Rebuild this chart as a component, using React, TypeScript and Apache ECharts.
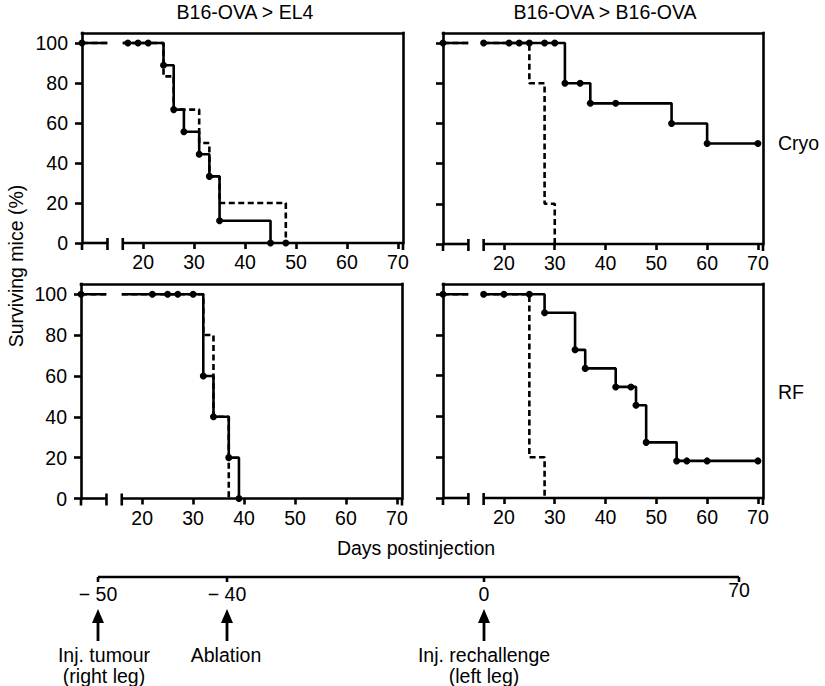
import React, { useEffect, useRef } from 'react';
import * as echarts from 'echarts';

// ---------- texts ----------
const panelTitles = ['B16-OVA > EL4', 'B16-OVA > B16-OVA'];
const rowLabels = ['Cryo', 'RF'];
const xTitle = 'Days postinjection';
const yTitle = 'Surviving mice (%)';
const xTicks = [20, 30, 40, 50, 60, 70];
const yTicks = [0, 20, 40, 60, 80, 100];
// broken x axis segments (days)
const axisSegments = [[8, 13], [16, 71]];
const timelineTicks = ['\u2212 50', '\u2212 40', '0', '70'];
const timelineEvents = ['Inj. tumour\n(right leg)', 'Ablation', 'Inj. rechallenge\n(left leg)'];

// ---------- data: [day, % surviving, marker (1 = dot)], null = axis break ----------
const cryoEL4Treated = [
  [8, 100, 1], [13, 100, 0], [13, null, 0], [16, 100, 0], [17, 100, 1], [19, 100, 1], [21, 100, 1],
  [24, 88.9, 1], [26, 66.7, 1], [28, 55.6, 1], [31, 44.4, 1], [33, 33.3, 1], [35, 11.1, 1], [45, 0, 1],
];
const cryoEL4Control = [
  [8, 100, 0], [13, 100, 0], [13, null, 0], [16, 100, 0], [24, 83.3, 0], [26, 66.7, 0],
  [31, 50, 0], [33, 33.3, 0], [35, 20, 0], [48, 0, 1],
];
const cryoB16Treated = [
  [8, 100, 1], [13, 100, 0], [13, null, 0], [16, 100, 1], [21, 100, 1], [23, 100, 1], [25, 100, 1],
  [28, 100, 1], [30, 100, 1], [32, 80, 1], [35, 80, 1], [37, 70, 1], [42, 70, 1], [53, 60, 1],
  [60, 50, 1], [70, 50, 1],
];
const cryoB16Control = [
  [8, 100, 0], [13, 100, 0], [13, null, 0], [16, 100, 0], [25, 80, 0], [28, 20, 0], [30, 0, 0],
];
const rfEL4Treated = [
  [8, 100, 1], [13, 100, 0], [13, null, 0], [16, 100, 0], [22, 100, 1], [25, 100, 1], [27, 100, 1],
  [30, 100, 1], [32, 60, 1], [34, 40, 1], [37, 20, 1], [39, 0, 1],
];
const rfEL4Control = [
  [8, 100, 0], [13, 100, 0], [13, null, 0], [16, 100, 0], [32, 80, 0], [34, 40, 0], [37, 0, 0],
];
const rfB16Treated = [
  [8, 100, 1], [13, 100, 0], [13, null, 0], [16, 100, 1], [20, 100, 1], [25, 100, 1], [28, 90.9, 1],
  [34, 72.7, 1], [36, 63.6, 1], [42, 54.5, 1], [45, 54.5, 1], [46, 45.5, 1], [48, 27.3, 1],
  [54, 18.2, 1], [56, 18.2, 1], [60, 18.2, 1], [70, 18.2, 1],
];
const rfB16Control = [
  [8, 100, 0], [13, 100, 0], [13, null, 0], [16, 100, 0], [25, 20, 0], [28, 0, 0],
];

const panels = [
  { treated: cryoEL4Treated, control: cryoEL4Control },
  { treated: cryoB16Treated, control: cryoB16Control },
  { treated: rfEL4Treated, control: rfEL4Control },
  { treated: rfB16Treated, control: rfB16Control },
];

// ---------- layout ----------
const FONT = 'Liberation Sans, Arial, Helvetica, sans-serif';
const FS = 19.5;
const LW = 2.6;
const GRIDS = [
  { left: 82, top: 33, width: 321, height: 210 },
  { left: 443, top: 33, width: 320, height: 211 },
  { left: 81, top: 284, width: 321, height: 214.5 },
  { left: 443, top: 284, width: 320, height: 214 },
];
const TL_Y = 577;
const TL_X = [98, 227, 484, 739];
const EVENT_X = [104, 226, 484];

function toItems(arr: any[]) {
  return arr.map(([d, v, m]) => ({ value: [d, v], symbol: m ? 'circle' : 'none' }));
}

function buildOption() {
  const lineStyle = { color: '#000', width: LW, cap: 'square' as const };
  const xAxis: any[] = [];
  const yAxis: any[] = [];
  const series: any[] = [];
  GRIDS.forEach((g, i) => {
    xAxis.push({
      type: 'value', gridIndex: i, min: 8, max: 71,
      axisLine: { show: false, onZero: false },
      splitLine: { show: false },
      axisTick: { show: true, customValues: xTicks, length: 6, lineStyle: { color: '#000', width: LW } },
      axisLabel: { customValues: xTicks, fontSize: FS, color: '#000', margin: 9, fontFamily: FONT },
    });
    xAxis.push({
      type: 'value', gridIndex: i, position: 'top', min: 8, max: 71,
      axisLine: { show: true, onZero: false, lineStyle },
      axisTick: { show: false }, axisLabel: { show: false }, splitLine: { show: false },
    });
    yAxis.push({
      type: 'value', gridIndex: i, min: 0, max: 105,
      axisLine: { show: true, onZero: false, lineStyle },
      splitLine: { show: false },
      axisTick: { show: true, customValues: yTicks, length: 7, lineStyle: { color: '#000', width: LW } },
      axisLabel: { show: i % 2 === 0, customValues: yTicks, fontSize: FS, color: '#000', margin: 14, fontFamily: FONT },
    });
    yAxis.push({
      type: 'value', gridIndex: i, position: 'right', min: 0, max: 105,
      axisLine: { show: true, onZero: false, lineStyle },
      axisTick: { show: false }, axisLabel: { show: false }, splitLine: { show: false },
    });
    // broken bottom axis
    series.push({
      type: 'custom', xAxisIndex: 2 * i, yAxisIndex: 2 * i, data: axisSegments, clip: false, silent: true, z: 3,
      renderItem: (params: any, api: any) => {
        const s = api.value(0), e = api.value(1);
        const a = api.coord([s, 0]), b = api.coord([e, 0]);
        const n = axisSegments.length, idx = params.dataIndex;
        const st = { stroke: '#000', lineWidth: LW };
        return {
          type: 'group',
          children: [
            { type: 'line', shape: { x1: a[0], y1: a[1], x2: b[0], y2: b[1] }, style: st },
            { type: 'line', shape: { x1: a[0], y1: a[1] - (idx > 0 ? 5 : 0), x2: a[0], y2: a[1] + 7 }, style: st },
            { type: 'line', shape: { x1: b[0], y1: b[1] - (idx < n - 1 ? 5 : 0), x2: b[0], y2: b[1] + 7 }, style: st },
          ],
        };
      },
    });
    series.push({
      type: 'line', xAxisIndex: 2 * i, yAxisIndex: 2 * i, step: 'end', z: 4,
      data: toItems(panels[i].control), symbol: 'circle', symbolSize: 7, showSymbol: true,
      lineStyle: { color: '#000', width: LW, type: [6, 3.5] }, itemStyle: { color: '#000' },
      connectNulls: false, silent: true,
    });
    series.push({
      type: 'line', xAxisIndex: 2 * i, yAxisIndex: 2 * i, step: 'end', z: 5,
      data: toItems(panels[i].treated), symbol: 'circle', symbolSize: 7, showSymbol: true,
      lineStyle: { color: '#000', width: LW }, itemStyle: { color: '#000' },
      connectNulls: false, silent: true,
    });
  });

  const txt = (text: string, x: number, y: number, align = 'center', extra: any = {}) => ({
    type: 'text', x, y, silent: true, ...extra,
    style: { text, fill: '#000', fontSize: FS, fontFamily: FONT, align, verticalAlign: 'middle' },
  });

  const graphic: any[] = [
    txt(panelTitles[0], 245, 12),
    txt(panelTitles[1], 605, 12),
    txt(rowLabels[0], 778, 143, 'left'),
    txt(rowLabels[1], 778, 392, 'left'),
    txt(yTitle, 16, 266, 'center', { rotation: Math.PI / 2 }),
    txt(xTitle, 416, 548),
    // timeline
    { type: 'line', silent: true, shape: { x1: TL_X[0], y1: TL_Y, x2: TL_X[3], y2: TL_Y }, style: { stroke: '#000', lineWidth: LW } },
  ];
  TL_X.forEach((x, k) => {
    graphic.push({ type: 'line', silent: true, shape: { x1: x, y1: TL_Y, x2: x, y2: TL_Y + 5 }, style: { stroke: '#000', lineWidth: LW } });
    graphic.push(txt(timelineTicks[k], x, k === 3 ? 590 : 594));
  });
  timelineEvents.forEach((label, k) => {
    const x = TL_X[k];
    graphic.push({ type: 'polygon', silent: true, shape: { points: [[x - 6, 623], [x, 609], [x + 6, 623]] }, style: { fill: '#000' } });
    graphic.push({ type: 'rect', silent: true, shape: { x: x - 1.4, y: 620, width: 2.8, height: 21 }, style: { fill: '#000' } });
    graphic.push({
      type: 'text', silent: true, x: EVENT_X[k], y: 644,
      style: { text: label, fill: '#000', fontSize: FS, fontFamily: FONT, align: 'center', verticalAlign: 'top', lineHeight: 21 },
    });
  });

  return {
    animation: false,
    textStyle: { fontFamily: FONT },
    grid: GRIDS.map((g) => ({ ...g })),
    xAxis,
    yAxis,
    series,
    graphic,
  };
}

export default function App() {
  const ref = useRef<HTMLDivElement>(null);
  useEffect(() => {
    if (!ref.current) return;
    const chart = echarts.init(ref.current, undefined, { renderer: 'svg' });
    chart.setOption(buildOption() as any);
    return () => chart.dispose();
  }, []);
  return (
    <div
      ref={ref}
      style={{ position: 'absolute', left: 0, top: 0, width: 825, height: 686, background: '#fff' }}
    />
  );
}
